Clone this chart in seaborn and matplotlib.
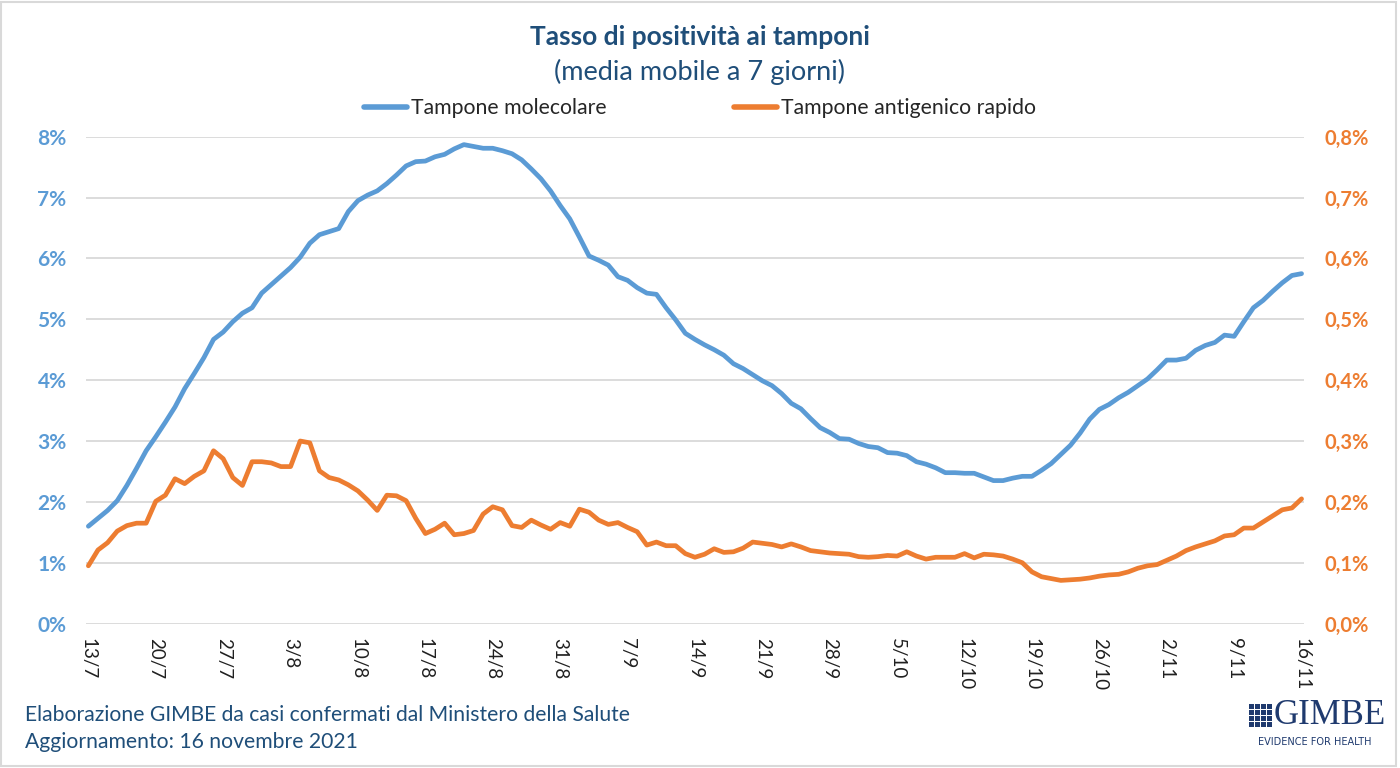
import pandas as pd
import matplotlib.pyplot as plt
import seaborn as sns
from matplotlib.patches import Rectangle
from matplotlib.lines import Line2D

# --- dati: tasso di positività (media mobile 7 giorni), 13/7 - 16/11/2021 ---
giorni = pd.date_range('2021-07-13', '2021-11-16', freq='D')

molecolare = [
    1.60, 1.73, 1.86, 2.02, 2.27, 2.55, 2.84, 3.07, 3.31, 3.56,
    3.86, 4.11, 4.37, 4.67, 4.79, 4.96, 5.10, 5.19, 5.43, 5.57,
    5.71, 5.85, 6.02, 6.25, 6.39, 6.44, 6.49, 6.77, 6.95, 7.04,
    7.11, 7.23, 7.37, 7.52, 7.59, 7.60, 7.67, 7.71, 7.80, 7.87,
    7.84, 7.81, 7.81, 7.77, 7.72, 7.62, 7.47, 7.31, 7.11, 6.87,
    6.65, 6.35, 6.04, 5.97, 5.89, 5.70, 5.64, 5.52, 5.43, 5.41,
    5.19, 4.99, 4.77, 4.67, 4.58, 4.50, 4.41, 4.27, 4.19, 4.09,
    3.99, 3.91, 3.78, 3.62, 3.53, 3.37, 3.22, 3.14, 3.04, 3.03,
    2.96, 2.91, 2.89, 2.81, 2.80, 2.76, 2.66, 2.62, 2.56, 2.48,
    2.48, 2.47, 2.47, 2.41, 2.35, 2.35, 2.39, 2.42, 2.42, 2.52,
    2.63, 2.78, 2.93, 3.13, 3.36, 3.52, 3.60, 3.71, 3.80, 3.91,
    4.02, 4.17, 4.33, 4.33, 4.36, 4.49, 4.57, 4.62, 4.74, 4.72,
    4.96, 5.19, 5.31, 5.46, 5.60, 5.72, 5.75,
]

antigenico = [
    0.095, 0.121, 0.133, 0.152, 0.161, 0.165, 0.165, 0.201, 0.211, 0.238,
    0.230, 0.242, 0.251, 0.284, 0.271, 0.240, 0.227, 0.266, 0.266, 0.264,
    0.258, 0.258, 0.300, 0.297, 0.251, 0.240, 0.236, 0.228, 0.218, 0.203,
    0.186, 0.211, 0.210, 0.202, 0.173, 0.148, 0.155, 0.165, 0.146, 0.148,
    0.153, 0.180, 0.192, 0.187, 0.161, 0.158, 0.170, 0.162, 0.155, 0.166,
    0.160, 0.188, 0.183, 0.170, 0.163, 0.166, 0.158, 0.151, 0.129, 0.134,
    0.128, 0.128, 0.115, 0.109, 0.114, 0.123, 0.117, 0.118, 0.124, 0.134,
    0.132, 0.130, 0.126, 0.131, 0.126, 0.120, 0.118, 0.116, 0.115, 0.114,
    0.110, 0.109, 0.110, 0.112, 0.111, 0.118, 0.111, 0.106, 0.109, 0.109,
    0.109, 0.115, 0.108, 0.114, 0.113, 0.111, 0.106, 0.100, 0.085, 0.077,
    0.074, 0.071, 0.072, 0.073, 0.075, 0.078, 0.080, 0.081, 0.085, 0.091,
    0.095, 0.097, 0.104, 0.111, 0.120, 0.126, 0.131, 0.136, 0.144, 0.146,
    0.157, 0.157, 0.167, 0.177, 0.187, 0.190, 0.205,
]

etichette_x = ['13/7', '20/7', '27/7', '3/8', '10/8', '17/8', '24/8', '31/8',
               '7/9', '14/9', '21/9', '28/9', '5/10', '12/10', '19/10',
               '26/10', '2/11', '9/11', '16/11']
tick_sx = [0, 1, 2, 3, 4, 5, 6, 7, 8]
etichette_sx = ['0%', '1%', '2%', '3%', '4%', '5%', '6%', '7%', '8%']
tick_dx = [0.0, 0.1, 0.2, 0.3, 0.4, 0.5, 0.6, 0.7, 0.8]
etichette_dx = ['0,0%', '0,1%', '0,2%', '0,3%', '0,4%', '0,5%', '0,6%', '0,7%', '0,8%']

BLU = '#5B9BD5'
ARANCIO = '#ED7D31'
BLU_SCURO = '#1F4E79'

df = pd.DataFrame({'data': giorni, 'molecolare': molecolare, 'antigenico': antigenico})

sns.set_style('white')
plt.rcParams['font.family'] = ['Lato', 'DejaVu Sans']

fig = plt.figure(figsize=(14, 7.68), dpi=100)
ax = fig.add_axes([0.0614, 0.188, 0.870, 0.634])
ax2 = ax.twinx()

sns.lineplot(data=df, x='data', y='molecolare', ax=ax, color=BLU, linewidth=3.4)
sns.lineplot(data=df, x='data', y='antigenico', ax=ax2, color=ARANCIO, linewidth=3.4)

ax.set_xlim(giorni[0] - pd.Timedelta(hours=6), giorni[-1] + pd.Timedelta(hours=6))
ax.set_ylim(0, 8)
ax2.set_ylim(0, 0.8)

ax.set_yticks(tick_sx)
ax.set_yticklabels(etichette_sx, color=BLU, fontsize=15, fontweight='bold')
ax2.set_yticks(tick_dx)
ax2.set_yticklabels(etichette_dx, color=ARANCIO, fontsize=14.5, fontweight='bold')

ax.set_xticks(giorni[::7])
ax.set_xticklabels(etichette_x, rotation=-90, fontsize=13.5, color='#202020',
                   va='top', ha='center')

ax.tick_params(axis='y', length=0, pad=14)
ax2.tick_params(axis='y', length=0, pad=15)
ax.tick_params(axis='x', length=0, pad=10)

ax.grid(axis='y', color='#D9D9D9', linewidth=1.3)
ax.grid(axis='x', visible=False)
ax.set_axisbelow(True)
for a in (ax, ax2):
    a.set_xlabel('')
    a.set_ylabel('')
    for s in a.spines.values():
        s.set_visible(False)

# titolo
fig.text(0.5, 0.952, 'Tasso di positività ai tamponi', ha='center', va='center',
         fontsize=19, fontweight='bold', color=BLU_SCURO)
fig.text(0.5, 0.906, '(media mobile a 7 giorni)', ha='center', va='center',
         fontsize=19.5, color=BLU_SCURO)

# legenda
maniglie = [Line2D([], [], color=BLU, linewidth=4, solid_capstyle='round'),
            Line2D([], [], color=ARANCIO, linewidth=4, solid_capstyle='round')]
fig.legend(maniglie, ['Tampone molecolare', 'Tampone antigenico rapido'],
           loc='center', bbox_to_anchor=(0.5, 0.859), ncol=2, frameon=False,
           fontsize=15.3, handlelength=2.0, handletextpad=0.2, columnspacing=6.0)

# note in basso
fig.text(0.018, 0.069, 'Elaborazione GIMBE da casi confermati dal Ministero della Salute',
         ha='left', va='center', fontsize=15.2, color=BLU_SCURO)
fig.text(0.018, 0.034, 'Aggiornamento: 16 novembre 2021',
         ha='left', va='center', fontsize=15.2, color=BLU_SCURO)

# logo GIMBE
for r in range(4):
    for c in range(4):
        fig.add_artist(Rectangle((1249 / 1400 + c * 6 / 1400, 1 - (704 + r * 6) / 768 - 5 / 768),
                                 5 / 1400, 5 / 768, transform=fig.transFigure,
                                 facecolor='#1F3A6E', edgecolor='none'))
fig.text(1330 / 1400, 1 - 716 / 768, 'GIMBE', ha='center', va='center',
         fontsize=25, color='#1F3A6E', family='Liberation Serif')
fig.text(1315 / 1400, 1 - 742 / 768, 'EVIDENCE FOR HEALTH', ha='center', va='center',
         fontsize=7, color='#1F3A6E', family='DejaVu Sans')

# cornice
fig.add_artist(Rectangle((0.001, 0.002), 0.996, 0.995, transform=fig.transFigure,
                         fill=False, edgecolor='#D9D9D9', linewidth=1.5))

fig.savefig('out.png', dpi=100)
